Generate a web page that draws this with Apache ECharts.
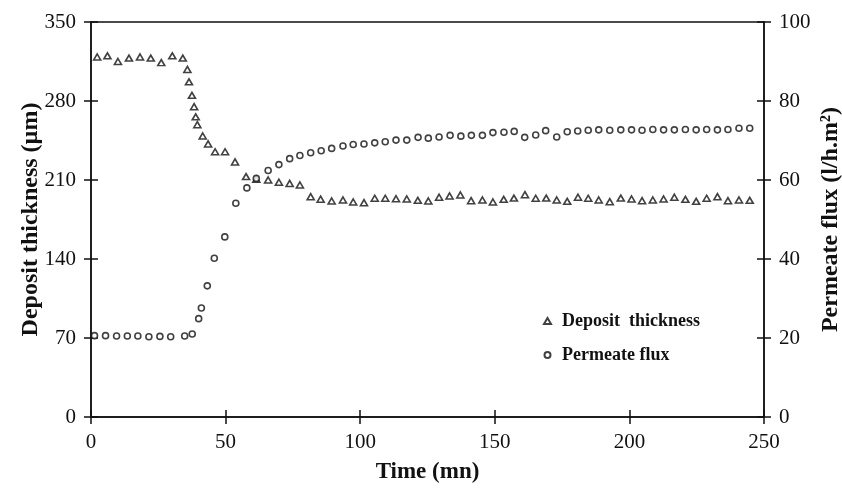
<!DOCTYPE html>
<html>
<head>
<meta charset="utf-8">
<script src="https://cdn.jsdelivr.net/npm/echarts@6/dist/echarts.min.js"></script>
<style>
  html, body { margin: 0; padding: 0; background: #fff; }
  #chart { width: 842px; height: 500px; }
</style>
</head>
<body>
<div id="chart"></div>
<script>
// deposit thickness (um) vs time (mn)
var depositTime = [2.3, 6.1, 10.0, 14.1, 18.2, 22.2, 26.1, 30.2, 34.1, 35.8, 36.4, 37.5, 38.3, 38.9, 39.5,
	41.5, 43.5, 46.1, 49.8, 53.5, 57.6, 61.4, 65.8, 69.8, 73.8, 77.6, 81.6, 85.3, 89.4, 93.6, 97.4,
	101.4, 105.4, 109.3, 113.3, 117.3, 121.4, 125.3, 129.3, 133.2, 137.2, 141.2, 145.4, 149.3, 153.3,
	157.1, 161.2, 165.2, 169.1, 173.0, 176.9, 180.9, 184.7, 188.6, 192.7, 196.8, 200.8, 204.7, 208.7,
	212.7, 216.7, 220.8, 224.8, 228.7, 232.7, 236.6, 240.7, 244.7];
var depositValue = [319, 320, 315, 318, 319, 318, 314, 320, 318, 308, 297, 285, 275, 266, 259,
	249, 242, 235, 235, 226, 213, 210.6, 210, 208, 207, 205.6, 195.2, 193, 191.4, 192.3, 190.5,
	189.9, 193.8, 193.8, 193.4, 193.2, 192, 191.4, 194.7, 195.8, 196.7, 191.7, 192.3, 190.5, 192.9,
	194, 197, 193.8, 194, 192.3, 191.1, 194.7, 193.8, 192.3, 190.8, 194, 193.2, 191.7, 192.3,
	193.2, 194.7, 192.9, 191.1, 193.8, 195.2, 191.7, 192.3, 192];

// permeate flux (l/h.m2) vs time (mn)
var fluxTime = [1.3, 5.4, 9.5, 13.5, 17.4, 21.5, 25.6, 29.6, 34.8, 37.6, 40.0, 41.0, 43.2, 45.8, 49.7,
	53.8, 57.9, 61.4, 65.8, 69.8, 73.8, 77.6, 81.6, 85.5, 89.4, 93.6, 97.4, 101.4, 105.4, 109.3,
	113.3, 117.3, 121.5, 125.3, 129.3, 133.4, 137.4, 141.3, 145.4, 149.3, 153.4, 157.2, 161.1, 165.2,
	168.9, 173.0, 176.9, 180.8, 184.7, 188.6, 192.7, 196.8, 200.8, 204.7, 208.7, 212.7, 216.7, 220.8,
	224.8, 228.7, 232.7, 236.6, 240.7, 244.7];
var fluxValue = [20.6, 20.6, 20.5, 20.5, 20.5, 20.3, 20.4, 20.3, 20.5, 21.0, 24.9, 27.6, 33.2, 40.2, 45.6,
	54.1, 58.0, 60.4, 62.4, 63.9, 65.4, 66.2, 66.9, 67.4, 68.0, 68.6, 69.0, 69.1, 69.4, 69.7,
	70.1, 70.1, 70.8, 70.6, 70.9, 71.3, 71.1, 71.3, 71.3, 72.0, 72.1, 72.3, 70.8, 71.4,
	72.5, 70.9, 72.2, 72.4, 72.6, 72.7, 72.6, 72.7, 72.7, 72.6, 72.8, 72.7, 72.7, 72.8,
	72.7, 72.8, 72.7, 72.8, 73.1, 73.1];

var xTicks = [0, 250, 50];      // min, max, interval
var leftTicks = [0, 350, 70];
var rightTicks = [0, 100, 20];

function pairs(xs, ys) {
	var out = [];
	for (var i = 0; i < xs.length; i++) out.push([xs[i], ys[i]]);
	return out;
}

var ink = '#111';
var serif = 'Liberation Serif';

function valueAxis(t, extra) {
	var a = {
		type: 'value', min: t[0], max: t[1], interval: t[2],
		splitLine: { show: false },
		axisLine: { show: true, onZero: false, lineStyle: { color: ink, width: 1.5 } },
		axisTick: { show: true, length: 7, lineStyle: { color: ink, width: 1.5 } },
		axisLabel: { color: ink, fontFamily: serif, fontSize: 21, margin: 15 },
		nameMoveOverlap: false,
		nameTextStyle: { color: ink, fontFamily: serif, fontSize: 24, fontWeight: 'bold' }
	};
	for (var k in extra) a[k] = extra[k];
	return a;
}

// second copies of the axes draw the inner half of the crossing ticks
function innerTicks(t, pos) {
	return {
		type: 'value', min: t[0], max: t[1], interval: t[2], position: pos,
		splitLine: { show: false },
		axisLine: { show: false, onZero: false },
		axisLabel: { show: false },
		axisTick: { show: true, inside: true, length: 7, lineStyle: { color: ink, width: 1.5 } }
	};
}

var chart = echarts.init(document.getElementById('chart'));

chart.setOption({
	backgroundColor: '#fff',
	animation: false,
	grid: {
		left: 91, right: 78, top: 22, bottom: 83,
		outerBoundsMode: 'none',
		show: true, borderColor: ink, borderWidth: 1.5
	},
	xAxis: [
		valueAxis(xTicks, {
			position: 'bottom',
			name: 'Time (mn)', nameLocation: 'middle', nameGap: 44,
			nameTextStyle: { color: ink, fontFamily: serif, fontSize: 23, fontWeight: 'bold' }
		}),
		innerTicks(xTicks, 'bottom')
	],
	yAxis: [
		valueAxis(leftTicks, {
			position: 'left',
			name: 'Deposit thickness (µm)', nameLocation: 'middle', nameRotate: 90, nameGap: 48
		}),
		valueAxis(rightTicks, {
			position: 'right',
			name: 'Permeate flux (l/h.m²)', nameLocation: 'middle', nameRotate: 90, nameGap: 55
		}),
		innerTicks(leftTicks, 'left'),
		innerTicks(rightTicks, 'right')
	],
	legend: {
		orient: 'vertical',
		left: 538, top: 306,
		itemWidth: 7, itemHeight: 6, itemGap: 14,
		textStyle: { color: ink, fontFamily: serif, fontSize: 18, fontWeight: 'bold', lineHeight: 20, padding: [0, 0, 0, 6] },
		data: ['Deposit  thickness', 'Permeate flux']
	},
	series: [{
		name: 'Deposit  thickness',
		type: 'scatter',
		xAxisIndex: 0, yAxisIndex: 0,
		symbol: 'triangle', symbolSize: [7, 6],
		itemStyle: { color: '#fff', borderColor: ink, borderWidth: 1.6 },
		data: pairs(depositTime, depositValue)
	}, {
		name: 'Permeate flux',
		type: 'scatter',
		xAxisIndex: 0, yAxisIndex: 1,
		symbol: 'circle', symbolSize: 6,
		itemStyle: { color: '#fff', borderColor: ink, borderWidth: 1.6 },
		data: pairs(fluxTime, fluxValue)
	}]
});
</script>
</body>
</html>
